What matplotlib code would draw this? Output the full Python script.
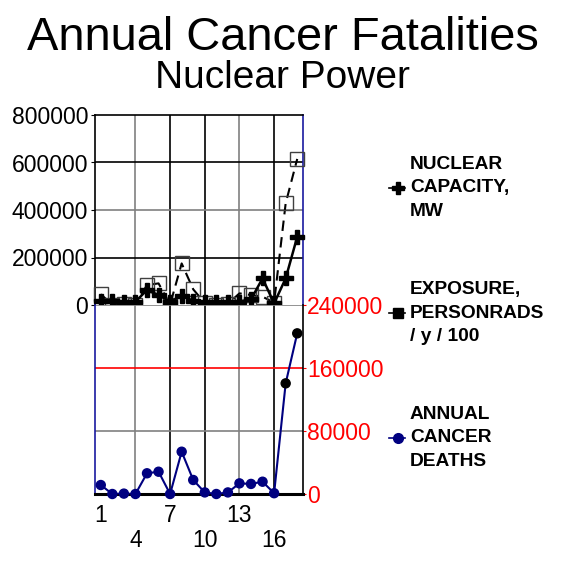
import matplotlib
matplotlib.use("Agg")
import matplotlib.pyplot as plt
from matplotlib.lines import Line2D

plt.rcParams['font.family'] = ['Liberation Sans', 'DejaVu Sans']

years = list(range(1, 19))
capacity = [18000, 18000, 14000, 14000, 63000, 42000, 14000, 38000, 18000,
            14000, 14000, 14000, 14000, 24000, 112000, 7000, 112000, 287000]
exposure = [45000, 2000, 5000, 2000, 84000, 91000, 2000, 175000, 66000,
            8000, 2000, 5000, 49000, 42000, 35000, 10000, 428000, 615000]
deaths = [11400, 0, 500, 0, 26300, 28300, 0, 53700, 17800,
          2000, 0, 2000, 13500, 12800, 15600, 1000, 140500, 204000]

upper_ticks = [0, 200000, 400000, 600000, 800000]
lower_ticks = [0, 80000, 160000, 240000]
x_ticks = [1, 4, 7, 10, 13, 16]
x_labels = ['1', '\n4', '7', '\n10', '13', '\n16']

W = 565.0
fig = plt.figure(figsize=(5.65, 5.65), dpi=100)
fig.patch.set_facecolor('white')

def fx(px):
    return px / W

def fy(py):
    return 1 - py / W

ax1 = fig.add_axes([fx(95), fy(305), fx(303) - fx(95), fy(115) - fy(305)])
ax2 = fig.add_axes([fx(95), fy(494), fx(303) - fx(95), fy(305) - fy(494)])

xlim = (0.5, 18.5)
vcolors = {4: '#808080', 7: 'black', 10: 'black', 13: '#808080', 16: 'black'}

# Upper panel
ax1.set_xlim(*xlim)
ax1.set_ylim(0, 800000)
for xv, c in vcolors.items():
    ax1.axvline(xv, color=c, lw=1.2, zorder=1)
for yv, c in zip([200000, 400000, 600000], ['black', '#808080', 'black']):
    ax1.axhline(yv, color=c, lw=1.2, zorder=1)
ax1.plot(years, exposure, color='black', ls=(0, (5, 3)), lw=1.5, marker='s',
         markersize=9.5, markerfacecolor='none', markeredgecolor='#404040',
         markeredgewidth=1.0, zorder=3, clip_on=False)
ax1.plot(years, capacity, color='black', lw=1.8, marker='P', markersize=10.5,
         markerfacecolor='black', markeredgecolor='black', zorder=4, clip_on=False)
ax1.set_yticks(upper_ticks)
ax1.set_yticklabels([str(v) for v in upper_ticks], fontsize=16.5)
ax1.tick_params(axis='y', length=3, pad=2)
ax1.set_xticks([])
ax1.spines['left'].set_color('black')
ax1.spines['right'].set_color('#1a1aa0')
ax1.spines['top'].set_color('black')
ax1.spines['bottom'].set_visible(False)
for s in ax1.spines.values():
    s.set_linewidth(1.2)

# Lower panel
ax2.set_xlim(*xlim)
ax2.set_ylim(0, 240000)
for xv, c in vcolors.items():
    ax2.axvline(xv, color=c, lw=1.2, zorder=1)
ax2.axhline(160000, color='red', lw=1.2, zorder=1)
ax2.axhline(80000, color='#808080', lw=1.2, zorder=1)
ax2.axhline(240000, color='#808080', lw=1.2, zorder=1)
ax2.plot(years, deaths, color='#000080', lw=1.5, zorder=3)
mcolors = ['#000080'] * 16 + ['black', 'black']
ax2.scatter(years, deaths, c=mcolors, s=42, zorder=4, clip_on=False)
ax2.yaxis.tick_right()
ax2.set_yticks(lower_ticks)
ax2.set_yticklabels([str(v) for v in lower_ticks], fontsize=16.5, color='red')
ax2.tick_params(axis='y', length=2, pad=1, colors='red', labelcolor='red')
ax2.set_xticks(x_ticks)
ax2.set_xticklabels(x_labels, fontsize=16.5, linespacing=1.15)
ax2.tick_params(axis='x', length=0, pad=7)
ax2.spines['left'].set_color('#1a1aa0')
ax2.spines['left'].set_linewidth(1.2)
ax2.spines['right'].set_color('black')
ax2.spines['right'].set_linewidth(1.2)
ax2.spines['top'].set_visible(False)
ax2.spines['bottom'].set_color('black')
ax2.spines['bottom'].set_linewidth(2.2)

# Titles
fig.text(0.5, fy(38), 'Annual Cancer Fatalities', ha='center', va='center', fontsize=33.8)
fig.text(0.5, fy(78), 'Nuclear Power', ha='center', va='center', fontsize=28)

# Legend
leg_items = [
    (188, ['NUCLEAR', 'CAPACITY,', 'MW'], dict(marker='P', color='black', markersize=8)),
    (313, ['EXPOSURE,', 'PERSONRADS', '/ y / 100'], dict(marker='s', color='black', markersize=7)),
    (438, ['ANNUAL', 'CANCER', 'DEATHS'], dict(marker='o', color='#000080', markersize=7)),
]
for cy, lines, style in leg_items:
    fig.add_artist(Line2D([fx(389), fx(405)], [fy(cy), fy(cy)], transform=fig.transFigure,
                          color=style['color'], lw=1.2))
    fig.add_artist(Line2D([fx(398)], [fy(cy)], transform=fig.transFigure,
                          marker=style['marker'], color=style['color'],
                          markersize=style['markersize'], lw=0))
    for i, t in enumerate(lines):
        fig.text(fx(410), fy(cy + (i - 1) * 23.5), t, ha='left', va='center',
                 fontsize=13.8, fontweight='bold')

fig.savefig('out.png', dpi=100, facecolor='white')
